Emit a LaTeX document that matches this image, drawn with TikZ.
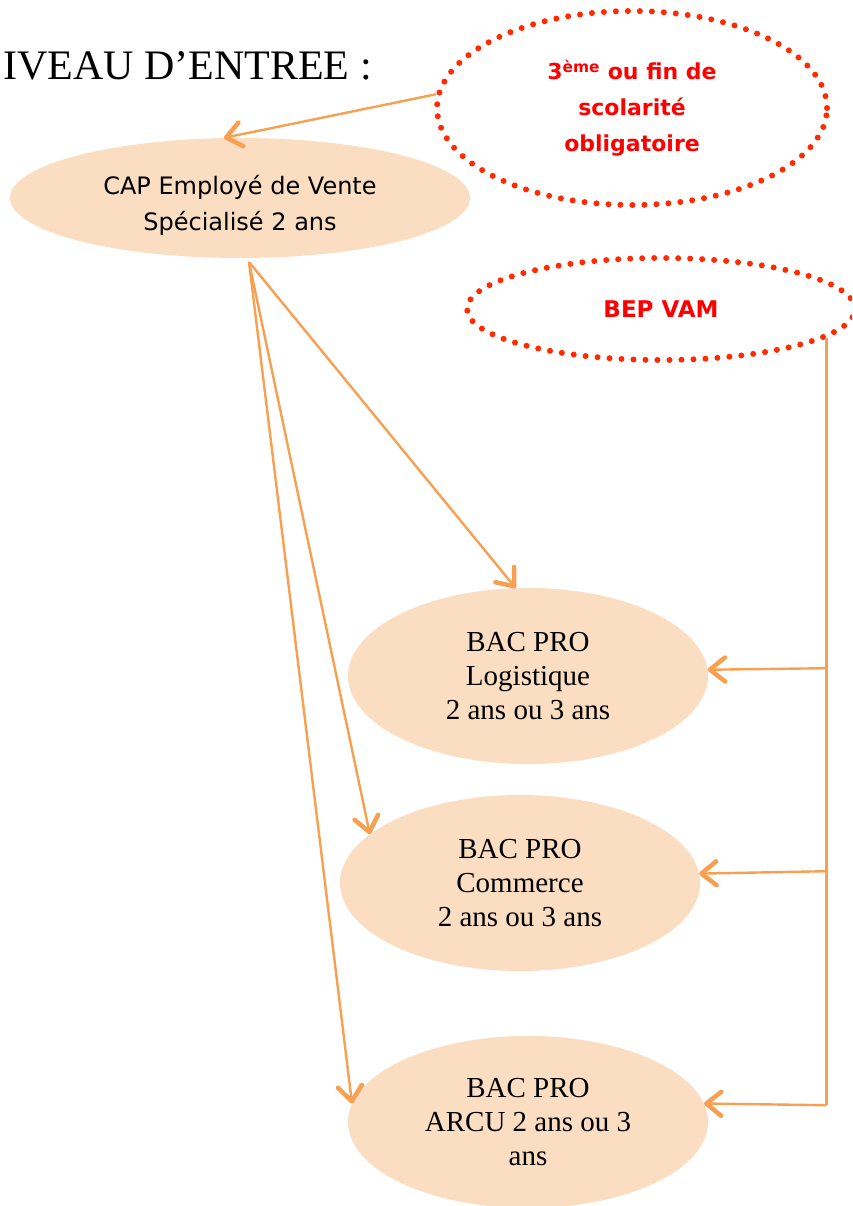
\documentclass[tikz,border=0pt]{standalone}
\usepackage{fontspec}
\setmainfont{Liberation Serif}
\newfontfamily\comic{DejaVu Sans}
\usetikzlibrary{shapes.geometric,arrows.meta}
\definecolor{lineorange}{HTML}{F7A052}
\definecolor{peach}{HTML}{FBDDC2}
\definecolor{dotred}{HTML}{FF2A00}
\begin{document}
\begin{tikzpicture}[x=1pt,y=-1pt,
  lineonly/.style={draw=lineorange, line width=2.4pt},
  conn/.style={lineonly, -{Straight Barb[length=15pt,width=24pt,line width=4.5pt,round]}},
  bacnode/.style={ellipse, fill=peach, minimum width=360pt, minimum height=176pt, inner sep=0pt, align=center, font=\fontsize{29}{34}\selectfont},
  dotell/.style={ellipse, draw=dotred, line width=6pt, dash pattern=on 0pt off 12pt, line cap=round, inner sep=0pt, align=center, text=red}
]
\useasboundingbox (0,0) rectangle (852,1206);
\clip (0,0) rectangle (852,1206);

\node[anchor=base east, inner sep=0pt, font=\fontsize{42}{50}\selectfont] (title) at (372,80) {IVEAU D’ENTREE :};

\node[dotell, minimum width=390pt, minimum height=194pt, font=\comic\bfseries\fontsize{22}{36}\selectfont] (e3) at (632,108) {3\textsuperscript{ème} ou fin de\\scolarité\\obligatoire};

\node[ellipse, fill=peach, minimum width=460pt, minimum height=120pt, inner sep=0pt,
  label={[inner sep=0pt, align=center, yshift=-7pt, font=\comic\fontsize{24}{36}\selectfont]center:CAP Employé de Vente\\Spécialisé 2 ans}] (cap) at (240,198) {};

\node[dotell, minimum width=388pt, minimum height=102pt, font=\comic\bfseries\fontsize{23}{28}\selectfont] (bep) at (661,309) {BEP VAM};

\node[bacnode] (b1) at (528,676) {BAC PRO\\Logistique\\2 ans ou 3 ans};
\node[bacnode, minimum height=176pt] (b2) at (520,883) {BAC PRO\\Commerce\\2 ans ou 3 ans};
\node[bacnode, minimum height=172pt] (b3) at (528,1122) {BAC PRO\\ARCU 2 ans ou 3\\ans};

\draw[conn] (e3.176) -- (cap.105);

\coordinate (capout) at (249,262);
\draw[conn] (capout) -- (b1.98);
\draw[conn] (capout) -- (b2.162);
\draw[conn] (capout) -- (b3.174);

\path (bep.-10) ++(0,330) coordinate (j1) ++(0,203) coordinate (j2) ++(0,234) coordinate (j3);
\draw[lineonly] (bep.-10) -- (j3);
\draw[conn] (j1) -- (b1.2);
\draw[conn] (j2) -- (b2.3);
\draw[conn] (j3) -- (b3.6);
\end{tikzpicture}
\end{document}
